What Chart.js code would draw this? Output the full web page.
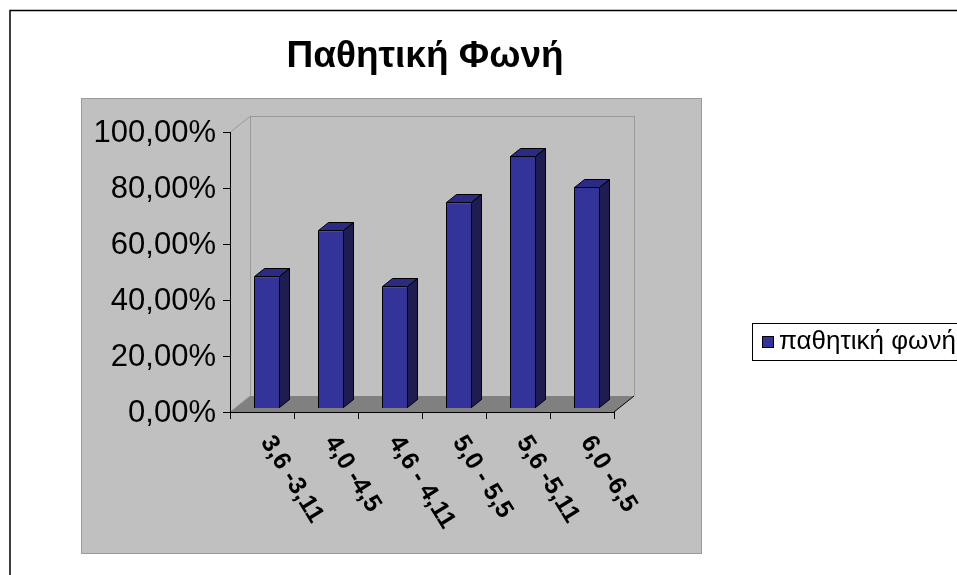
<!DOCTYPE html>
<html><head><meta charset="utf-8">
<script src="https://cdn.jsdelivr.net/npm/chart.js@4.4.0/dist/chart.umd.min.js"></script>
<style>html,body{margin:0;padding:0;background:#fff;overflow:hidden}#wrap{width:957px;height:575px;position:relative}</style>
</head><body><div id="wrap"><canvas id="c" width="957" height="575"></canvas></div>
<script>
const chartTitle = 'Παθητική Φωνή';
const seriesName = 'παθητική φωνή';
const categories = ['3,6 -3,11', '4,0 -4,5', '4,6 - 4,11', '5,0 - 5,5', '5,6 -5,11', '6,0 -6,5'];
const values = [0.47, 0.635, 0.435, 0.735, 0.90, 0.79];
const yTickValues = [0, 0.2, 0.4, 0.6, 0.8, 1.0];
const yTickLabels = ['0,00%', '20,00%', '40,00%', '60,00%', '80,00%', '100,00%'];

const FONT = '"Liberation Sans", Arial, sans-serif';
const HALF = {dx: 5, dy: 4};     // front axis plane -> bar front plane
const BAR_D = {dx: 10, dy: -8};  // bar depth
const WALL = {dx: 20, dy: -16};  // full depth

const deco = {
  id: 'deco',
  beforeDraw(chart) {
    const ctx = chart.ctx;
    ctx.save();
    ctx.fillStyle = '#fff';
    ctx.fillRect(0, 0, chart.width, chart.height);
    // outer border
    ctx.strokeStyle = '#000'; ctx.lineWidth = 1.5;
    ctx.strokeRect(10, 10.5, chart.width + 20, chart.height + 20);
    // plot panel
    ctx.fillStyle = '#c0c0c0';
    ctx.fillRect(81, 98, 621, 456);
    ctx.strokeStyle = '#9a9a9a'; ctx.lineWidth = 1;
    ctx.strokeRect(81.5, 98.5, 620, 455);
    // title
    ctx.fillStyle = '#000';
    ctx.font = 'bold 37px ' + FONT;
    ctx.textAlign = 'center'; ctx.textBaseline = 'middle';
    ctx.fillText(chartTitle, 425, 57);
    // legend
    ctx.fillStyle = '#fff';
    ctx.fillRect(752, 323, 220, 37);
    ctx.strokeStyle = '#000'; ctx.lineWidth = 1;
    ctx.strokeRect(752.5, 323.5, 220, 37);
    const ds = chart.data.datasets[0];
    ctx.fillStyle = ds.backgroundColor;
    ctx.fillRect(762, 336, 12, 12);
    ctx.strokeRect(762.5, 336.5, 11, 11);
    ctx.fillStyle = '#000';
    ctx.font = '26px ' + FONT;
    ctx.textAlign = 'left'; ctx.textBaseline = 'middle';
    ctx.fillText(ds.label, 779, 342);
    ctx.restore();
  },
  beforeDatasetsDraw(chart) {
    const ctx = chart.ctx;
    const ys = chart.scales.y, xs = chart.scales.x;
    const ca = chart.chartArea;
    const fL = ca.left - HALF.dx, fR = ca.right - HALF.dx;
    const fB = ys.getPixelForValue(0) + HALF.dy, fT = ys.getPixelForValue(1) + HALF.dy;
    const bL = fL + WALL.dx, bR = fR + WALL.dx, bB = fB + WALL.dy, bT = fT + WALL.dy;
    ctx.save();
    // floor
    ctx.fillStyle = '#808080';
    ctx.beginPath();
    ctx.moveTo(fL, fB); ctx.lineTo(fR, fB); ctx.lineTo(bR, bB); ctx.lineTo(bL, bB); ctx.closePath();
    ctx.fill();
    // wall edges
    ctx.strokeStyle = '#9a9a9a'; ctx.lineWidth = 1;
    ctx.beginPath();
    ctx.moveTo(fL + 0.5, fT); ctx.lineTo(bL + 0.5, bT);
    ctx.moveTo(bL + 0.5, bT); ctx.lineTo(bL + 0.5, bB);
    ctx.moveTo(bR + 0.5, bT); ctx.lineTo(bR + 0.5, bB);
    ctx.moveTo(bL, bT + 0.5); ctx.lineTo(bR, bT + 0.5);
    ctx.moveTo(fL, fB); ctx.lineTo(bL, bB);
    ctx.stroke();
    // floor right edge
    ctx.strokeStyle = '#000';
    ctx.beginPath();
    ctx.moveTo(fR, fB); ctx.lineTo(bR, bB);
    ctx.stroke();
    // y axis
    ctx.beginPath();
    ctx.moveTo(fL + 0.5, fT); ctx.lineTo(fL + 0.5, fB + 0.5);
    yTickValues.forEach(v => {
      const y = Math.round(ys.getPixelForValue(v) + HALF.dy) + 0.5;
      ctx.moveTo(fL - 7, y); ctx.lineTo(fL + 0.5, y);
    });
    // x axis
    ctx.moveTo(fL, fB + 0.5); ctx.lineTo(fR, fB + 0.5);
    const half = (xs.getPixelForValue(1) - xs.getPixelForValue(0)) / 2;
    for (let i = 0; i <= categories.length; i++) {
      const x = Math.round(xs.getPixelForValue(Math.min(i, categories.length - 1)) + (i === categories.length ? half : -half) - HALF.dx) + 0.5;
      ctx.moveTo(x, fB); ctx.lineTo(x, fB + 7);
    }
    ctx.stroke();
    // y labels
    ctx.fillStyle = '#000';
    ctx.font = '31px ' + FONT;
    ctx.textAlign = 'right'; ctx.textBaseline = 'middle';
    yTickValues.forEach((v, i) => {
      ctx.fillText(yTickLabels[i], fL - 14, ys.getPixelForValue(v) + HALF.dy + 1);
    });
    // x labels
    ctx.font = 'bold 25px ' + FONT;
    ctx.textAlign = 'left'; ctx.textBaseline = 'middle';
    categories.forEach((c, i) => {
      const cx = xs.getPixelForValue(i) - HALF.dx;
      ctx.save();
      ctx.translate(cx + 4, fB + 26);
      ctx.rotate(58 * Math.PI / 180);
      ctx.fillText(c, 0, 0);
      ctx.restore();
    });
    ctx.restore();
  },
  afterDatasetsDraw(chart) {
    const ctx = chart.ctx;
    const meta = chart.getDatasetMeta(0);
    ctx.save();
    ctx.strokeStyle = '#000'; ctx.lineWidth = 1; ctx.lineJoin = 'miter';
    meta.data.forEach(bar => {
      const p = bar.getProps(['x', 'y', 'width', 'base'], true);
      const l = Math.round(p.x - p.width / 2) + 0.5, r = Math.round(p.x + p.width / 2) - 0.5;
      const t = Math.round(p.y) + 0.5, b = Math.round(p.base) - 0.5;
      // top
      ctx.fillStyle = '#2b2b85';
      ctx.beginPath();
      ctx.moveTo(l, t); ctx.lineTo(r, t); ctx.lineTo(r + BAR_D.dx, t + BAR_D.dy); ctx.lineTo(l + BAR_D.dx, t + BAR_D.dy); ctx.closePath();
      ctx.fill(); ctx.stroke();
      // side
      ctx.fillStyle = '#1d1d52';
      ctx.beginPath();
      ctx.moveTo(r, t); ctx.lineTo(r + BAR_D.dx, t + BAR_D.dy); ctx.lineTo(r + BAR_D.dx, b + BAR_D.dy); ctx.lineTo(r, b); ctx.closePath();
      ctx.fill(); ctx.stroke();
    });
    ctx.restore();
  }
};

new Chart(document.getElementById('c'), {
  type: 'bar',
  data: {
    labels: categories,
    datasets: [{
      label: seriesName,
      data: values,
      backgroundColor: '#333399',
      borderColor: '#000',
      borderWidth: 1,
      barPercentage: 26 / 64,
      categoryPercentage: 1
    }]
  },
  options: {
    responsive: false,
    animation: false,
    devicePixelRatio: 1,
    layout: {padding: {left: 235, right: 338, top: 128, bottom: 167}},
    scales: {
      x: {display: false, offset: true},
      y: {display: false, min: 0, max: 1}
    },
    plugins: {legend: {display: false}, title: {display: false}, tooltip: {enabled: false}}
  },
  plugins: [deco]
});
</script></body></html>
